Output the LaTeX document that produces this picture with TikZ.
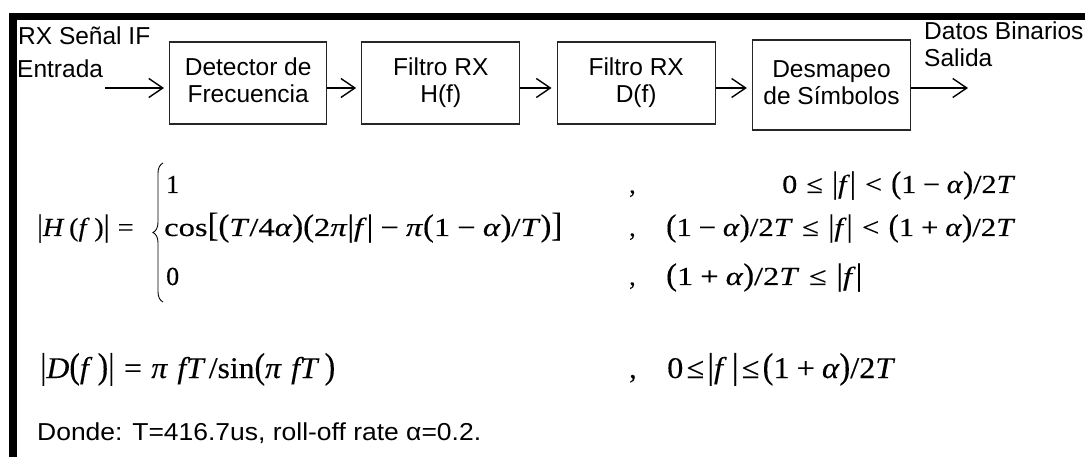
\documentclass[tikz,border=0pt]{standalone}
\usepackage{fontspec}
\usepackage{graphicx}
\setmainfont{Liberation Sans}
\newfontfamily\tmr{Liberation Serif}[FakeBold=0.25]
\usetikzlibrary{arrows.meta,decorations.pathreplacing}

% formula helpers (text-mode maths in a Times-like face)
\newcommand\vi[1]{\textit{#1}}
\newcommand\dl[2][1.2]{\scalebox{1}[#1]{#2}}
\newcommand\Lp{\dl{(}}
\newcommand\Rp{\dl{)}}
\newcommand\Lb{\dl[1.3]{[}}
\newcommand\Rb{\dl[1.3]{]}}
\newcommand\ab{\dl[1.2]{|}}
\newcommand\bop[1]{\hspace{0.22em}#1\hspace{0.22em}}
\newcommand\rel[1]{\hspace{0.3em}#1\hspace{0.3em}}
% stretch a formula horizontally to a given width, keeping its height
\newcommand\fitto[2]{\resizebox{#1}{\height}{#2}}
% line strut for the block texts
\newcommand\bl{\rule[-7pt]{0pt}{27pt}}

\begin{document}
\begin{tikzpicture}[x=1pt,y=-1pt,
  blockbox/.style={draw=black!85, line width=1.3pt, align=center, inner sep=0pt,
    font=\fontsize{24.5}{27}\selectfont},
  flow/.style={draw=black, line width=1.4pt,
    -{Straight Barb[length=14pt,width=19pt,line width=1.4pt]}, shorten >=5pt},
  lbl/.style={inner sep=0pt, anchor=base west, font=\fontsize{24.5}{27}\selectfont},
  eq/.style={inner sep=0pt, anchor=base west, font=\fontsize{26}{30}\selectfont\tmr},
  eqbig/.style={eq, font=\fontsize{30}{34}\selectfont\tmr}
]
\useasboundingbox (0,0) rectangle (1085,457);
\fill[white] (0,0) rectangle (1085,457);

% frame
\fill[black] (9,13.5) rectangle (1085,20.5);
\fill[black] (9,13.5) rectangle (16.5,457);

% processing blocks
\node[blockbox, minimum width=157pt, minimum height=82pt] (det) at (248.2,83)
  {\bl Detector de\\\bl Frecuencia};
\node[blockbox, minimum width=158pt, minimum height=82pt] (hf) at (440.8,83)
  {\bl Filtro RX\\\bl H(f)};
\node[blockbox, minimum width=158pt, minimum height=82pt] (df) at (636.2,83)
  {\bl Filtro RX\\\bl D(f)};
\node[blockbox, minimum width=158pt, minimum height=90pt] (dm) at (831.5,85)
  {\bl Desmapeo\\\bl de Símbolos};

% input / output labels
\node[lbl] (inA) at (18,45) {RX Señal IF};
\node[lbl] (inB) at (17,78) {Entrada};
\node[lbl] (outA) at (924,40) {Datos Binarios};
\node[lbl] (outB) at (924,66.7) {Salida};

% signal path
\coordinate (lane) at (0,88);
\coordinate (src) at (105,88);
\coordinate (snk) at (968,88);
\draw[flow] (src) -- (det.west |- lane);
\draw[flow] (det.east |- lane) -- (hf.west |- lane);
\draw[flow] (hf.east |- lane) -- (df.west |- lane);
\draw[flow] (df.east |- lane) -- (dm.west |- lane);
\draw[flow, shorten >=0pt] (dm.east |- lane) -- (snk);

% |H(f)|
\node[eq] (hl) at (37,236) {\fitto{105pt}{\ab\vi{H}\,(\vi{f}\,)\ab\rel{=}}};
\draw[line width=0.9pt, decorate, decoration={brace, amplitude=10pt}]
  (163,302) -- (163,163);
\node[eq] (h1) at (166,193) {1};
\node[eq] (h2) at (164,236)
  {\fitto{398pt}{cos\Lb\Lp\vi{T}/4\vi{α}\Rp\Lp2\vi{π}\ab\vi{f}\ab\bop{−}\vi{π}\Lp1\bop{−}\vi{α}\Rp/\vi{T}\Rp\Rb}};
\node[eq] (h3) at (166,285) {0};
\node[eq] (c1) at (629,193) {,};
\node[eq] (c2) at (629,236) {,};
\node[eq] (c3) at (629,285) {,};
\node[eq] (r1) at (782,193)
  {\fitto{233pt}{0\rel{≤}\ab\vi{f}\ab\rel{<}\Lp1\bop{−}\vi{α}\Rp/2\vi{T}}};
\node[eq] (r2) at (666,236)
  {\fitto{349pt}{\Lp1\bop{−}\vi{α}\Rp/2\vi{T}\rel{≤}\ab\vi{f}\ab\rel{<}\Lp1\bop{+}\vi{α}\Rp/2\vi{T}}};
\node[eq] (r3) at (666,285)
  {\fitto{196pt}{\Lp1\bop{+}\vi{α}\Rp/2\vi{T}\rel{≤}\ab\vi{f}\ab}};

% |D(f)|
\node[eqbig] (dl) at (40,378)
  {\fitto{295pt}{\ab\vi{D}\Lp\vi{f}\,\Rp\ab\rel{=}\vi{π}\hspace{0.3em}\vi{fT}\hspace{0.1em}/sin\Lp\vi{π}\hspace{0.3em}\vi{fT}\,\Rp}};
\node[eqbig] (c4) at (629,378) {,};
\node[eqbig] (r4) at (667,378)
  {\fitto{228pt}{0\hspace{0.1em}≤\hspace{0.1em}\ab\vi{f}\,\ab\hspace{0.1em}≤\hspace{0.1em}\Lp1\bop{+}\vi{α}\Rp/2\vi{T}}};

% parameters
\node[lbl] (note) at (37,440) {\fitto{444pt}{Donde: T=416.7us, roll-off rate α=0.2.}};
\end{tikzpicture}
\end{document}
